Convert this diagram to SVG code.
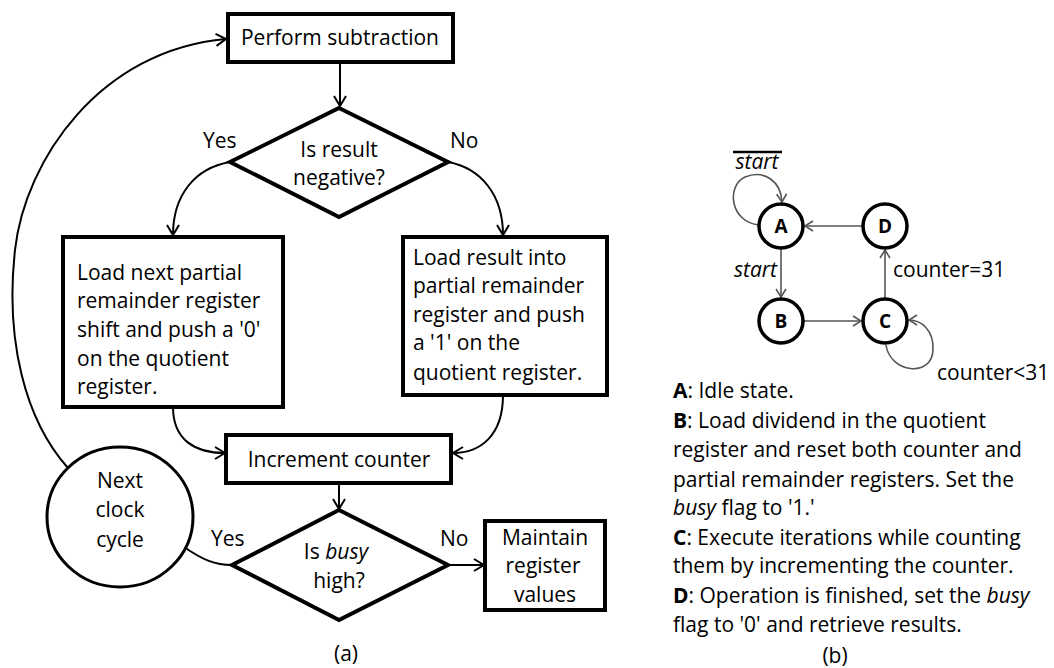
<svg xmlns="http://www.w3.org/2000/svg" width="1054" height="668" viewBox="0 0 1054 668">
<defs>
<style>
text{font-family:"Open Sans","DejaVu Sans",sans-serif;font-size:21px;fill:#000}
.box{fill:#fff;stroke:#000;stroke-width:4}
.dia{fill:#fff;stroke:#000;stroke-width:4;stroke-linejoin:miter}
.ell{fill:#fff;stroke:#000;stroke-width:3}
.conn{fill:none;stroke:#000;stroke-width:2}
.sconn{fill:none;stroke:#555;stroke-width:1.6}
.st{fill:#fff;stroke:#000;stroke-width:3.5}
.sl{font-weight:bold;font-size:19px;text-anchor:middle}
.mid{text-anchor:middle}
.it{font-style:italic}
.b{font-weight:bold}
</style>
<marker id="ah" markerUnits="userSpaceOnUse" markerWidth="16" markerHeight="16" viewBox="-13 -8 16 16" refX="0" refY="0" orient="auto">
<path d="M-10,-6 L0,0 L-10,6" fill="none" stroke="#000" stroke-width="2"/>
</marker>
<marker id="ahg" markerUnits="userSpaceOnUse" markerWidth="16" markerHeight="16" viewBox="-13 -8 16 16" refX="0" refY="0" orient="auto">
<path d="M-8,-5 L0,0 L-8,5" fill="none" stroke="#555" stroke-width="1.6"/>
</marker>
</defs>
<rect width="1054" height="668" fill="#fff"/>

<g id="connectors">
<path class="conn" d="M340,63 L340,106" marker-end="url(#ah)"/>
<path class="conn" d="M230,162 C195,168 173,195 173,235" marker-end="url(#ah)"/>
<path class="conn" d="M448,162 C481,168 503,195 503,235" marker-end="url(#ah)"/>
<path class="conn" d="M173,407 C173,440 195,453 225,453" marker-end="url(#ah)"/>
<path class="conn" d="M503,395 C503,436 480,453 453,453" marker-end="url(#ah)"/>
<path class="conn" d="M339,483 L339,509" marker-end="url(#ah)"/>
<path class="conn" d="M448,565 L484,565" marker-end="url(#ah)"/>
<path class="conn" d="M184,547 C203,560 215,565 232,565"/>
<path class="conn" d="M68,468 C25,420 5,340 15,250 C25,160 100,50 226,39" marker-end="url(#ah)"/>
<path class="sconn" d="M863,226 L805,226" marker-end="url(#ahg)"/>
<path class="sconn" d="M781,249 L781,297" marker-end="url(#ahg)"/>
<path class="sconn" d="M804,321 L861,321" marker-end="url(#ahg)"/>
<path class="sconn" d="M885,298 L885,250" marker-end="url(#ahg)"/>
<path class="sconn" d="M759,225 C730,222 726,186 745,177 C765,169 781,182 782,202" marker-end="url(#ahg)"/>
<path class="sconn" d="M886,345 C890,373 932,378 933,350 C934,330 921,320 909,320" marker-end="url(#ahg)"/>
</g>

<g id="perform">
<rect class="box" x="228" y="14" width="225" height="48"/>
<text class="mid" x="340" y="45">Perform subtraction</text>
</g>

<g id="decision1">
<polygon class="dia" points="339,108 448,162 339,217 230,162"/>
<text class="mid" x="339" y="157">Is result</text>
<text class="mid" x="339" y="185">negative?</text>
<text x="203" y="148">Yes</text>
<text x="450" y="148">No</text>
</g>

<g id="loadNext">
<rect class="box" x="63" y="237" width="220" height="170"/>
<text x="77" y="280">Load next partial</text>
<text x="77" y="308">remainder register</text>
<text x="77" y="337">shift and push a '0'</text>
<text x="77" y="366">on the quotient</text>
<text x="77" y="394">register.</text>
</g>

<g id="loadResult">
<rect class="box" x="403" y="237" width="204" height="158"/>
<text x="413" y="265">Load result into</text>
<text x="413" y="293">partial remainder</text>
<text x="413" y="322">register and push</text>
<text x="413" y="350">a '1' on the</text>
<text x="413" y="380">quotient register.</text>
</g>

<g id="increment">
<rect class="box" x="226" y="435" width="225" height="48"/>
<text class="mid" x="339" y="467">Increment counter</text>
</g>

<g id="decision2">
<polygon class="dia" points="339,510 448,565 339,620 232,565"/>
<text class="mid" x="336" y="559">Is <tspan class="it">busy</tspan></text>
<text class="mid" x="339" y="588">high?</text>
<text x="211" y="546">Yes</text>
<text x="440" y="546">No</text>
</g>

<g id="maintain">
<rect class="box" x="485" y="521" width="120" height="89"/>
<text class="mid" x="545" y="545">Maintain</text>
<text class="mid" x="543" y="573">register</text>
<text class="mid" x="545" y="602">values</text>
</g>

<g id="nextClock">
<ellipse class="ell" cx="120" cy="517" rx="73" ry="70"/>
<text class="mid" x="120" y="488">Next</text>
<text class="mid" x="120" y="517">clock</text>
<text class="mid" x="120" y="547">cycle</text>
</g>

<text class="mid" x="346" y="661">(a)</text>

<g id="stateA">
<circle class="st" cx="781" cy="226" r="22"/>
<text class="sl" x="781" y="233">A</text>
</g>
<g id="stateB">
<circle class="st" cx="781" cy="321" r="22"/>
<text class="sl" x="781" y="328">B</text>
</g>
<g id="stateC">
<circle class="st" cx="885" cy="321" r="22"/>
<text class="sl" x="885" y="328">C</text>
</g>
<g id="stateD">
<circle class="st" cx="885" cy="226" r="22"/>
<text class="sl" x="885" y="233">D</text>
</g>

<g id="stateLabels">
<text class="it mid" x="757" y="169">start</text>
<line x1="733" y1="152" x2="782" y2="152" stroke="#000" stroke-width="2.5"/>
<text class="it" x="777" y="277" text-anchor="end">start</text>
<text x="893" y="277">counter=31</text>
<text x="937" y="380">counter&lt;31</text>
</g>

<g id="legend">
<text x="673" y="398"><tspan class="b">A</tspan>: Idle state.</text>
<text x="673" y="428"><tspan class="b">B</tspan>: Load dividend in the quotient</text>
<text x="673" y="457">register and reset both counter and</text>
<text x="673" y="487">partial remainder registers. Set the</text>
<text x="673" y="515"><tspan class="it">busy</tspan> flag to '1.'</text>
<text x="673" y="545"><tspan class="b">C</tspan>: Execute iterations while counting</text>
<text x="673" y="573">them by incrementing the counter.</text>
<text x="673" y="603"><tspan class="b">D</tspan>: Operation is finished, set the <tspan class="it">busy</tspan></text>
<text x="673" y="632">flag to '0' and retrieve results.</text>
<text class="mid" x="835" y="663">(b)</text>
</g>
</svg>
